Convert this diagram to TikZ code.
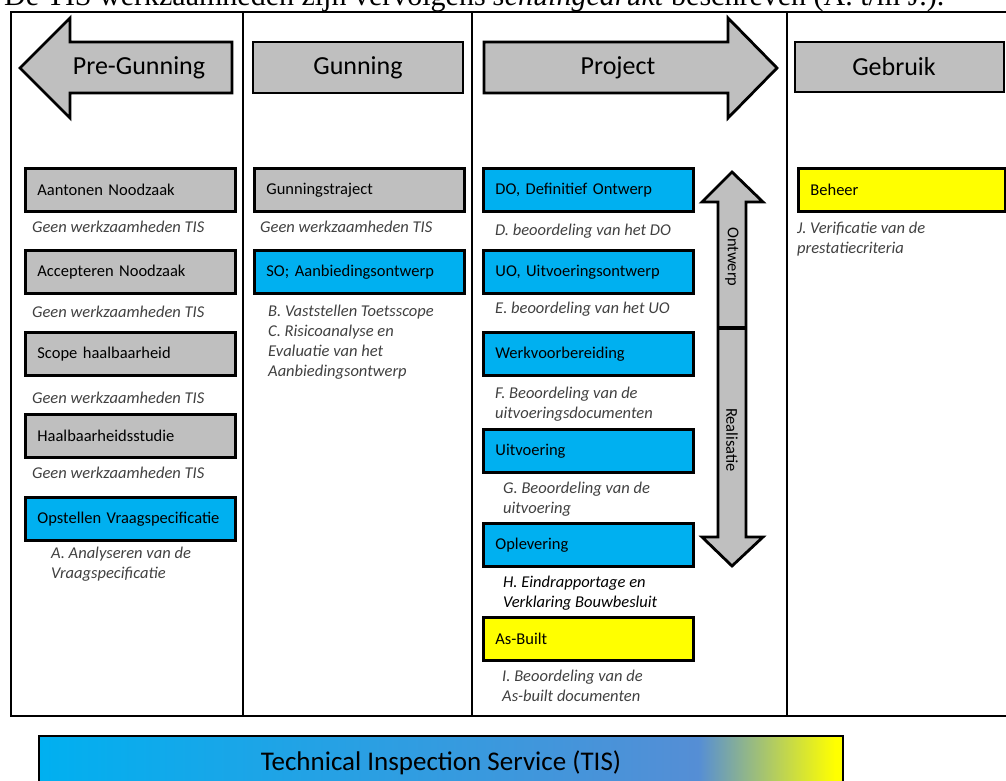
\documentclass[tikz,border=0pt]{standalone}
\usepackage{fontspec}
\setmainfont{Carlito}
\newfontfamily\timesfont{Liberation Serif}
\definecolor{phasegray}{HTML}{BFBFBF}
\definecolor{tisblue}{HTML}{00B0F0}
\definecolor{tissteel}{HTML}{558ED5}
\definecolor{tisyellow}{HTML}{FFFF00}
\definecolor{notegray}{HTML}{404040}
\pgfdeclarehorizontalshading{tisbar}{100bp}{color(0bp)=(tisblue); color(25bp)=(tisblue); color(66bp)=(tissteel); color(74.5bp)=(tisyellow); color(100bp)=(tisyellow)}
\tikzset{
	stagebox/.style={draw, line width=2.8pt, minimum height=43pt, text width=186pt, inner xsep=12pt, inner ysep=0pt, align=left, anchor=north west, font=\fontsize{16.5}{20}\selectfont},
	greystage/.style={stagebox, fill=phasegray},
	bluestage/.style={stagebox, fill=tisblue},
	yellowstage/.style={stagebox, fill=tisyellow},
	note/.style={anchor=base west, inner sep=0pt, align=left, text=notegray, font=\fontsize{16.5}{20}\selectfont\itshape},
	phaselabel/.style={font=\fontsize{26}{30}\selectfont},
	phaseshape/.style={draw, line width=2.8pt, fill=phasegray}
}
\begin{document}
\begin{tikzpicture}[x=1pt, y=-1pt]
	\useasboundingbox (0,0) rectangle (1006,780);
	\clip (0,0) rectangle (1006,780);
	\node[anchor=base west, inner sep=0pt, font=\timesfont\fontsize{30}{34}\selectfont] (intro) at (4,5) {De TIS werkzaamheden zijn vervolgens \textit{schuingedrukt} beschreven (A. t/m J.).};
	\draw[line width=2.8pt] (11,12) rectangle (1020,716);
	\draw[line width=2.5pt] (243,12)--(243,716);
	\draw[line width=2.5pt] (472,12)--(472,716);
	\draw[line width=2.5pt] (787,12)--(787,716);
	\draw[phaseshape] (20,68)--(70,18)--(70,42)--(232,42)--(232,93)--(70,93)--(70,118)--cycle;
	\node[phaselabel] (pregunning) at (139,68) {Pre-Gunning};
	\draw[phaseshape] (253,42) rectangle (463,93);
	\node[phaselabel] (gunning) at (358,68) {Gunning};
	\draw[phaseshape] (484,42)--(728,42)--(728,18)--(777,68)--(728,118)--(728,93)--(484,93)--cycle;
	\node[phaselabel] (project) at (618,68) {Project};
	\draw[phaseshape] (795,42) rectangle (1004,92);
	\node[phaselabel] (gebruik) at (894,67) {Gebruik};
	\node[greystage] (aantonen) at (24,167) {Aantonen Noodzaak};
	\node[note] (geena) at (32,232) {Geen werkzaamheden TIS};
	\node[greystage] (accepteren) at (24,249) {Accepteren Noodzaak};
	\node[note] (geenb) at (32,317) {Geen werkzaamheden TIS};
	\node[greystage] (scope) at (24,331) {Scope haalbaarheid};
	\node[note] (geenc) at (32,403) {Geen werkzaamheden TIS};
	\node[greystage] (studie) at (24,413) {Haalbaarheidsstudie};
	\node[note] (geend) at (32,478) {Geen werkzaamheden TIS};
	\node[bluestage] (vraagspec) at (24,496) {Opstellen Vraagspecificatie};
	\node[note] (notea) at (51,578) {A. Analyseren van de\\Vraagspecificatie};
	\node[greystage] (traject) at (253,167) {Gunningstraject};
	\node[note] (geene) at (260,232) {Geen werkzaamheden TIS};
	\node[bluestage] (so) at (253,249) {SO; Aanbiedingsontwerp};
	\node[note] (notebc) at (268,376) {B. Vaststellen Toetsscope\\C. Risicoanalyse en\\Evaluatie van het\\Aanbiedingsontwerp};
	\node[bluestage] (do) at (482,167) {DO, Definitief Ontwerp};
	\node[note] (noted) at (495,235) {D. beoordeling van het DO};
	\node[bluestage] (uo) at (482,249) {UO, Uitvoeringsontwerp};
	\node[note] (notee) at (495,313) {E. beoordeling van het UO};
	\node[bluestage] (werkvb) at (482,331) {Werkvoorbereiding};
	\node[note] (notef) at (495,418) {F. Beoordeling van de\\uitvoeringsdocumenten};
	\node[bluestage] (uitvoering) at (482,428) {Uitvoering};
	\node[note] (noteg) at (503,513) {G. Beoordeling van de\\uitvoering};
	\node[bluestage] (oplevering) at (482,522) {Oplevering};
	\node[note, text=black] (noteh) at (503,607) {H. Eindrapportage en\\Verklaring Bouwbesluit};
	\node[yellowstage] (asbuilt) at (482,616) {As-Built};
	\node[note] (notei) at (502,701) {I. Beoordeling van de\\As-built documenten};
	\draw[phaseshape] (732,172)--(763,202)--(746,202)--(746,537)--(763,537)--(732,566)--(702,537)--(718,537)--(718,202)--(702,202)--cycle;
	\draw[line width=4pt] (718,328)--(746,328);
	\node[rotate=-90, font=\fontsize{16.5}{20}\selectfont] (ontwerp) at (732,257) {Ontwerp};
	\node[rotate=-90, font=\fontsize{16.5}{20}\selectfont] (realisatie) at (732,440) {Realisatie};
	\node[yellowstage, text width=183pt] (beheer) at (797,167) {Beheer};
	\node[note] (notej) at (797,253) {J. Verificatie van de\\prestatiecriteria};
	\draw[line width=2.8pt, shading=tisbar] (39,736) rectangle (843,795);
	\node[font=\fontsize{27}{30}\selectfont] (tis) at (441,763) {Technical Inspection Service (TIS)};
\end{tikzpicture}
\end{document}
